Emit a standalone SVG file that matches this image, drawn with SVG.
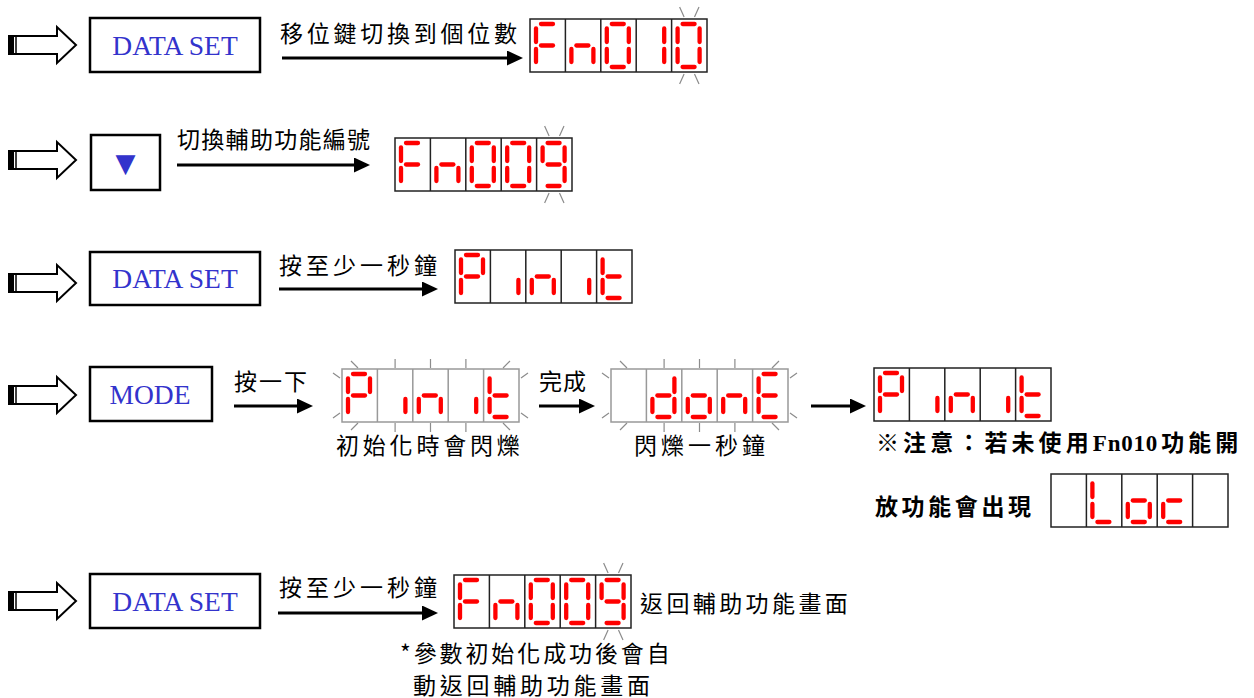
<svg xmlns="http://www.w3.org/2000/svg" xmlns:xlink="http://www.w3.org/1999/xlink" width="1254" height="698" viewBox="0 0 1254 698">
<style>
.box{fill:#fff;stroke:#000;stroke-width:2.5}
.btn{font-family:"Liberation Serif",serif;font-size:27.5px;fill:#3333cc;text-anchor:middle}
.tri{font-family:"DejaVu Sans",sans-serif;font-size:26px;fill:#3333cc;text-anchor:middle}
.lbl{font-family:"Noto Sans CJK TC",sans-serif;font-size:23px;fill:#000}
.note{font-family:"Liberation Serif","Noto Sans CJK TC",serif;font-size:23px;font-weight:bold;fill:#000}
.conn{stroke:#000;stroke-width:3;fill:none;marker-end:url(#ah)}
.seg{stroke:#ff0000;stroke-width:4.3;stroke-linecap:round;fill:none}
.mk{stroke:#8c8c8c;stroke-width:1.2;fill:none}
.fd{stroke:#222;stroke-width:1.5}
.fg{stroke:#999;stroke-width:1.5}
</style>
<defs>
<marker id="ah" markerUnits="userSpaceOnUse" markerWidth="16" markerHeight="15" refX="6" refY="7.5" orient="auto"><path d="M0,0 L16,7.5 L0,15 Z" fill="#000"/></marker>
<g id="hollow">
<polygon points="9,-9 57,-9 57,-18 76,0 57,18 57,9 9,9" fill="#fff" stroke="#000" stroke-width="2"/>
<rect x="9" y="-9" width="5" height="18" fill="#000"/>
<line x1="16" y1="-9" x2="16" y2="9" stroke="#000" stroke-width="1.5"/>
</g>
<g id="frame"><rect x="0" y="0" width="177" height="53" fill="none"/><path d="M35.4 0V53M70.8 0V53M106.2 0V53M141.6 0V53" fill="none"/></g>
<path id="sa" class="seg" d="M11 5H23"/>
<path id="sb" class="seg" d="M28 9.5V23"/>
<path id="sc" class="seg" d="M28 30V43"/>
<path id="sd" class="seg" d="M11 48H23"/>
<path id="se" class="seg" d="M6 30V43"/>
<path id="sf" class="seg" d="M6 9.5V23"/>
<path id="sg" class="seg" d="M11 26.5H23"/>
<g id="cF"><use href="#sa"/><use href="#sf"/><use href="#se"/><use href="#sg"/></g>
<g id="cn"><use href="#sc"/><use href="#se"/><use href="#sg"/></g>
<g id="c0"><use href="#sa"/><use href="#sb"/><use href="#sc"/><use href="#sd"/><use href="#se"/><use href="#sf"/></g>
<g id="c1"><use href="#sb"/><use href="#sc"/></g>
<g id="c9"><use href="#sa"/><use href="#sb"/><use href="#sc"/><use href="#sd"/><use href="#sf"/><use href="#sg"/></g>
<g id="cP"><use href="#sa"/><use href="#sb"/><use href="#se"/><use href="#sf"/><use href="#sg"/></g>
<g id="ci"><use href="#sc"/></g>
<g id="ct"><use href="#sd"/><use href="#se"/><use href="#sf"/><use href="#sg"/></g>
<g id="cd"><use href="#sb"/><use href="#sc"/><use href="#sd"/><use href="#se"/><use href="#sg"/></g>
<g id="co"><use href="#sc"/><use href="#sd"/><use href="#se"/><use href="#sg"/></g>
<g id="cE"><use href="#sa"/><use href="#sd"/><use href="#se"/><use href="#sf"/><use href="#sg"/></g>
<g id="cL"><use href="#sd"/><use href="#se"/><use href="#sf"/></g>
<g id="cc"><use href="#sd"/><use href="#se"/><use href="#sg"/></g>
<path id="blink5" class="mk" d="M149.6 -12L154.1 -2M169 -12L164.5 -2M149.6 65L154.1 55M169 65L164.5 55"/>
<path id="blinkAll" class="mk" d="M9 -8L16 -1M168 -8L161 -1M53.1 -10V-1M88.5 -10V-1M123.9 -10V-1M9 61L16 54M168 61L161 54M53.1 54V63M88.5 54V63M123.9 54V63M-9 4L-2 9M-9 49L-2 44M186 4L179 9M186 49L179 44"/>
</defs>

<g id="row1">
<use href="#hollow" y="45"/>
<g id="btn1"><rect class="box" x="90" y="18" width="170" height="54"/><text class="btn" x="175" y="54.5">DATA SET</text></g>
<text class="lbl" x="280" y="41.5" letter-spacing="3.75">移位鍵切換到個位數</text>
<g id="disp1" transform="translate(530,19)"><use href="#frame" class="fd"/><use href="#cF"/><use href="#cn" x="35.4"/><use href="#c0" x="70.8"/><use href="#c1" x="106.2"/><use href="#c0" x="141.6"/><use href="#blink5"/></g>
</g>

<g id="row2">
<use href="#hollow" y="160"/>
<g id="btn2"><rect class="box" x="91" y="135" width="69" height="55"/><text class="tri" x="125.5" y="172">▼</text></g>
<text class="lbl" x="177" y="147.5" letter-spacing="1.3">切換輔助功能編號</text>
<g id="disp2" transform="translate(395,138)"><use href="#frame" class="fd"/><use href="#cF"/><use href="#cn" x="35.4"/><use href="#c0" x="70.8"/><use href="#c0" x="106.2"/><use href="#c9" x="141.6"/><use href="#blink5"/></g>
</g>

<g id="row3">
<use href="#hollow" y="283"/>
<g id="btn3"><rect class="box" x="90" y="252" width="170" height="53"/><text class="btn" x="175" y="288">DATA SET</text></g>
<text class="lbl" x="279" y="273.5" letter-spacing="4">按至少一秒鐘</text>
<g id="disp3" transform="translate(455,250)"><use href="#frame" class="fd"/><use href="#cP"/><use href="#ci" x="35.4"/><use href="#cn" x="70.8"/><use href="#ci" x="106.2"/><use href="#ct" x="141.6"/></g>
</g>

<g id="row4">
<use href="#hollow" y="395"/>
<g id="btn4"><rect class="box" x="90" y="367" width="122" height="54"/><text class="btn" x="150" y="403.5">MODE</text></g>
<text class="lbl" x="234" y="390" letter-spacing="2">按一下</text>
<g id="disp4" transform="translate(342,369)"><use href="#frame" class="fg"/><use href="#cP"/><use href="#ci" x="35.4"/><use href="#cn" x="70.8"/><use href="#ci" x="106.2"/><use href="#ct" x="141.6"/><use href="#blinkAll"/></g>
<text class="lbl" x="336" y="454" letter-spacing="3.8">初始化時會閃爍</text>
<text class="lbl" x="539" y="390" letter-spacing="1">完成</text>
<g id="disp5" transform="translate(611,369)"><use href="#frame" class="fg"/><use href="#cd" x="35.4"/><use href="#co" x="70.8"/><use href="#cn" x="106.2"/><use href="#cE" x="141.6"/><use href="#blinkAll"/></g>
<text class="lbl" x="634" y="454" letter-spacing="4">閃爍一秒鐘</text>
<g id="disp6" transform="translate(874,368)"><use href="#frame" class="fd"/><use href="#cP"/><use href="#ci" x="35.4"/><use href="#cn" x="70.8"/><use href="#ci" x="106.2"/><use href="#ct" x="141.6"/></g>
<text class="note" x="876" y="451"><tspan letter-spacing="4.1">※注意：若未使用</tspan><tspan letter-spacing="0.8">Fn010</tspan><tspan letter-spacing="4.1" dx="3">功能開</tspan></text>
<text class="note" x="875" y="515" letter-spacing="3.6">放功能會出現</text>
<g id="disp7" transform="translate(1051,474)"><use href="#frame" class="fd"/><use href="#cL" x="35.4"/><use href="#co" x="70.8"/><use href="#cc" x="106.2"/></g>
</g>

<g id="row5">
<use href="#hollow" y="601"/>
<g id="btn5"><rect class="box" x="90" y="574" width="170" height="54"/><text class="btn" x="175" y="610.5">DATA SET</text></g>
<text class="lbl" x="279" y="596" letter-spacing="4">按至少一秒鐘</text>
<g id="disp8" transform="translate(454,575)"><use href="#frame" class="fd"/><use href="#cF"/><use href="#cn" x="35.4"/><use href="#c0" x="70.8"/><use href="#c0" x="106.2"/><use href="#c9" x="141.6"/><use href="#blink5"/></g>
<text class="lbl" x="640" y="611.5" letter-spacing="3.4">返回輔助功能畫面</text>
<text class="lbl" x="400" y="661.5" letter-spacing="2.9">*參數初始化成功後會自</text>
<text class="lbl" x="413" y="693.5" letter-spacing="3.75">動返回輔助功能畫面</text>
</g>

<g id="connectors">
<path class="conn" d="M282 58H513"/>
<path class="conn" d="M177 165H360"/>
<path class="conn" d="M279 289H428"/>
<path class="conn" d="M234 406H303"/>
<path class="conn" d="M539 406H585"/>
<path class="conn" d="M811 406H856"/>
<path class="conn" d="M278 613H428"/>
</g>
</svg>
